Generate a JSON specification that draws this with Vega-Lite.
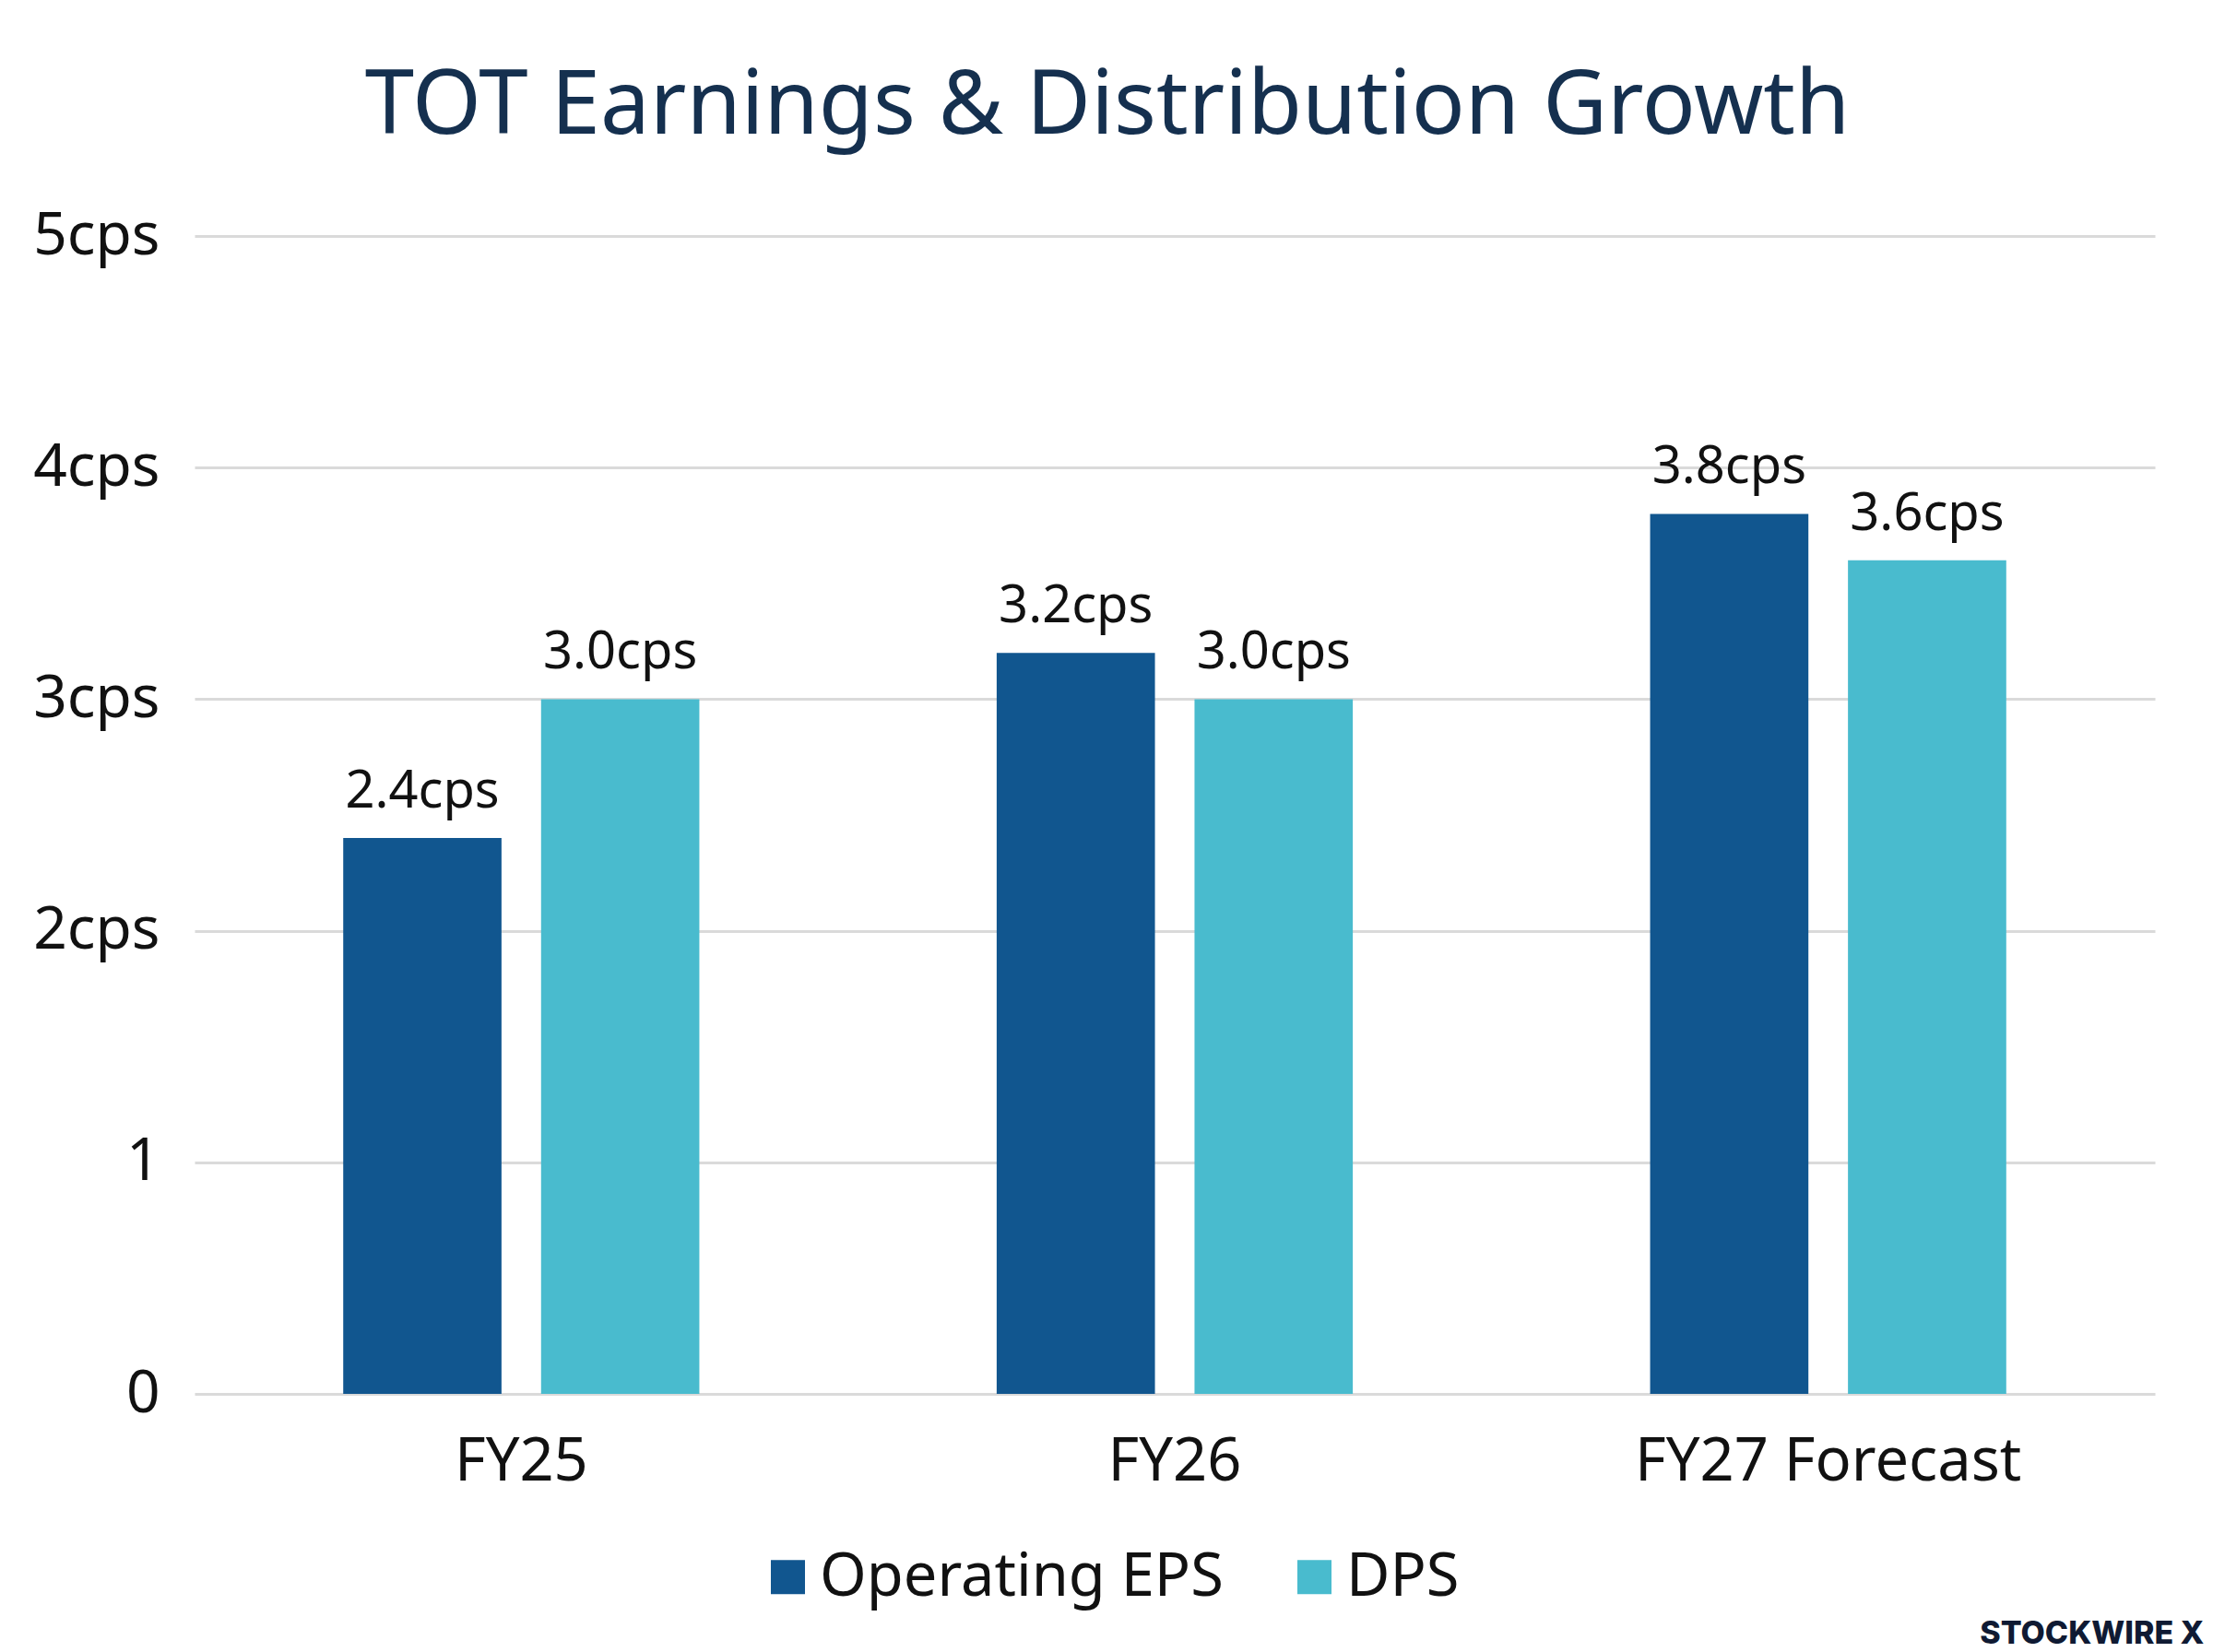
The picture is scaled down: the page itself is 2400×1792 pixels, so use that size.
{
  "$schema": "https://vega.github.io/schema/vega-lite/v6.json",
  "width": 2126,
  "height": 1256,
  "autosize": {"type": "none"},
  "padding": {"left": 211, "top": 256, "right": 63, "bottom": 280},
  "background": "white",
  "config": {"view": {"stroke": null}},
  "title": {
    "text": "TOT Earnings & Distribution Growth",
    "font": "Noto Sans",
    "fontSize": 96,
    "fontWeight": "normal",
    "color": "#15304F",
    "anchor": "middle",
    "dx": -73,
    "offset": 59
  },
  "data": {
    "values": [
      {"year": "FY25", "measure": "Operating EPS", "value": 2.4},
      {"year": "FY25", "measure": "DPS", "value": 3.0},
      {"year": "FY26", "measure": "Operating EPS", "value": 3.2},
      {"year": "FY26", "measure": "DPS", "value": 3.0},
      {"year": "FY27 Forecast", "measure": "Operating EPS", "value": 3.8},
      {"year": "FY27 Forecast", "measure": "DPS", "value": 3.6}
    ]
  },
  "transform": [
    {"calculate": "format(datum.value, '.1f') + 'cps'", "as": "label"}
  ],
  "encoding": {
    "x": {
      "field": "year",
      "type": "nominal",
      "sort": ["FY25", "FY26", "FY27 Forecast"],
      "scale": {"paddingInner": 0.455, "paddingOuter": 0.2275},
      "axis": {
        "title": "STOCKWIRE X",
        "titleFont": "Inter",
        "titleFontWeight": 800,
        "titleFontSize": 34,
        "titleColor": "#0F1A33",
        "titleAnchor": null,
        "titleAlign": "right",
        "titleBaseline": "alphabetic",
        "titleX": 2179,
        "titleY": 270,
        "labelAngle": 0,
        "labelFont": "Noto Sans",
        "labelFontSize": 65,
        "labelColor": "#111111",
        "labelPadding": 42,
        "labelLimit": 0,
        "ticks": false,
        "domain": false,
        "grid": false
      }
    },
    "xOffset": {
      "field": "measure",
      "type": "nominal",
      "sort": ["Operating EPS", "DPS"],
      "scale": {"paddingInner": 0.2, "paddingOuter": 0}
    },
    "y": {
      "field": "value",
      "type": "quantitative",
      "scale": {"domain": [0, 5]},
      "axis": {
        "title": null,
        "values": [0, 1, 2, 3, 4, 5],
        "labelExpr": "datum.value >= 2 ? datum.value + 'cps' : datum.label",
        "labelFont": "Noto Sans",
        "labelFontSize": 64,
        "labelColor": "#111111",
        "labelPadding": 38,
        "ticks": false,
        "domain": false,
        "grid": true,
        "gridColor": "#DADADA",
        "gridWidth": 3
      }
    }
  },
  "layer": [
    {
      "mark": {"type": "bar"},
      "encoding": {
        "color": {
          "field": "measure",
          "type": "nominal",
          "sort": ["Operating EPS", "DPS"],
          "scale": {"domain": ["Operating EPS", "DPS"], "range": ["#11568F", "#49BBCE"]},
          "legend": {
            "title": null,
            "orient": "none",
            "direction": "horizontal",
            "legendX": 611,
            "legendY": 1422,
            "padding": 0,
            "symbolType": "square",
            "symbolSize": 1370,
            "symbolStrokeWidth": 0,
            "labelFont": "Noto Sans",
            "labelFontSize": 65,
            "labelColor": "#111111",
            "labelOffset": 2,
            "labelLimit": 0,
            "columnPadding": 66
          }
        }
      }
    },
    {
      "mark": {
        "type": "text",
        "baseline": "alphabetic",
        "dy": -33,
        "font": "Noto Sans",
        "fontSize": 56,
        "color": "#111111"
      },
      "encoding": {
        "text": {"field": "label", "type": "nominal"}
      }
    }
  ]
}
